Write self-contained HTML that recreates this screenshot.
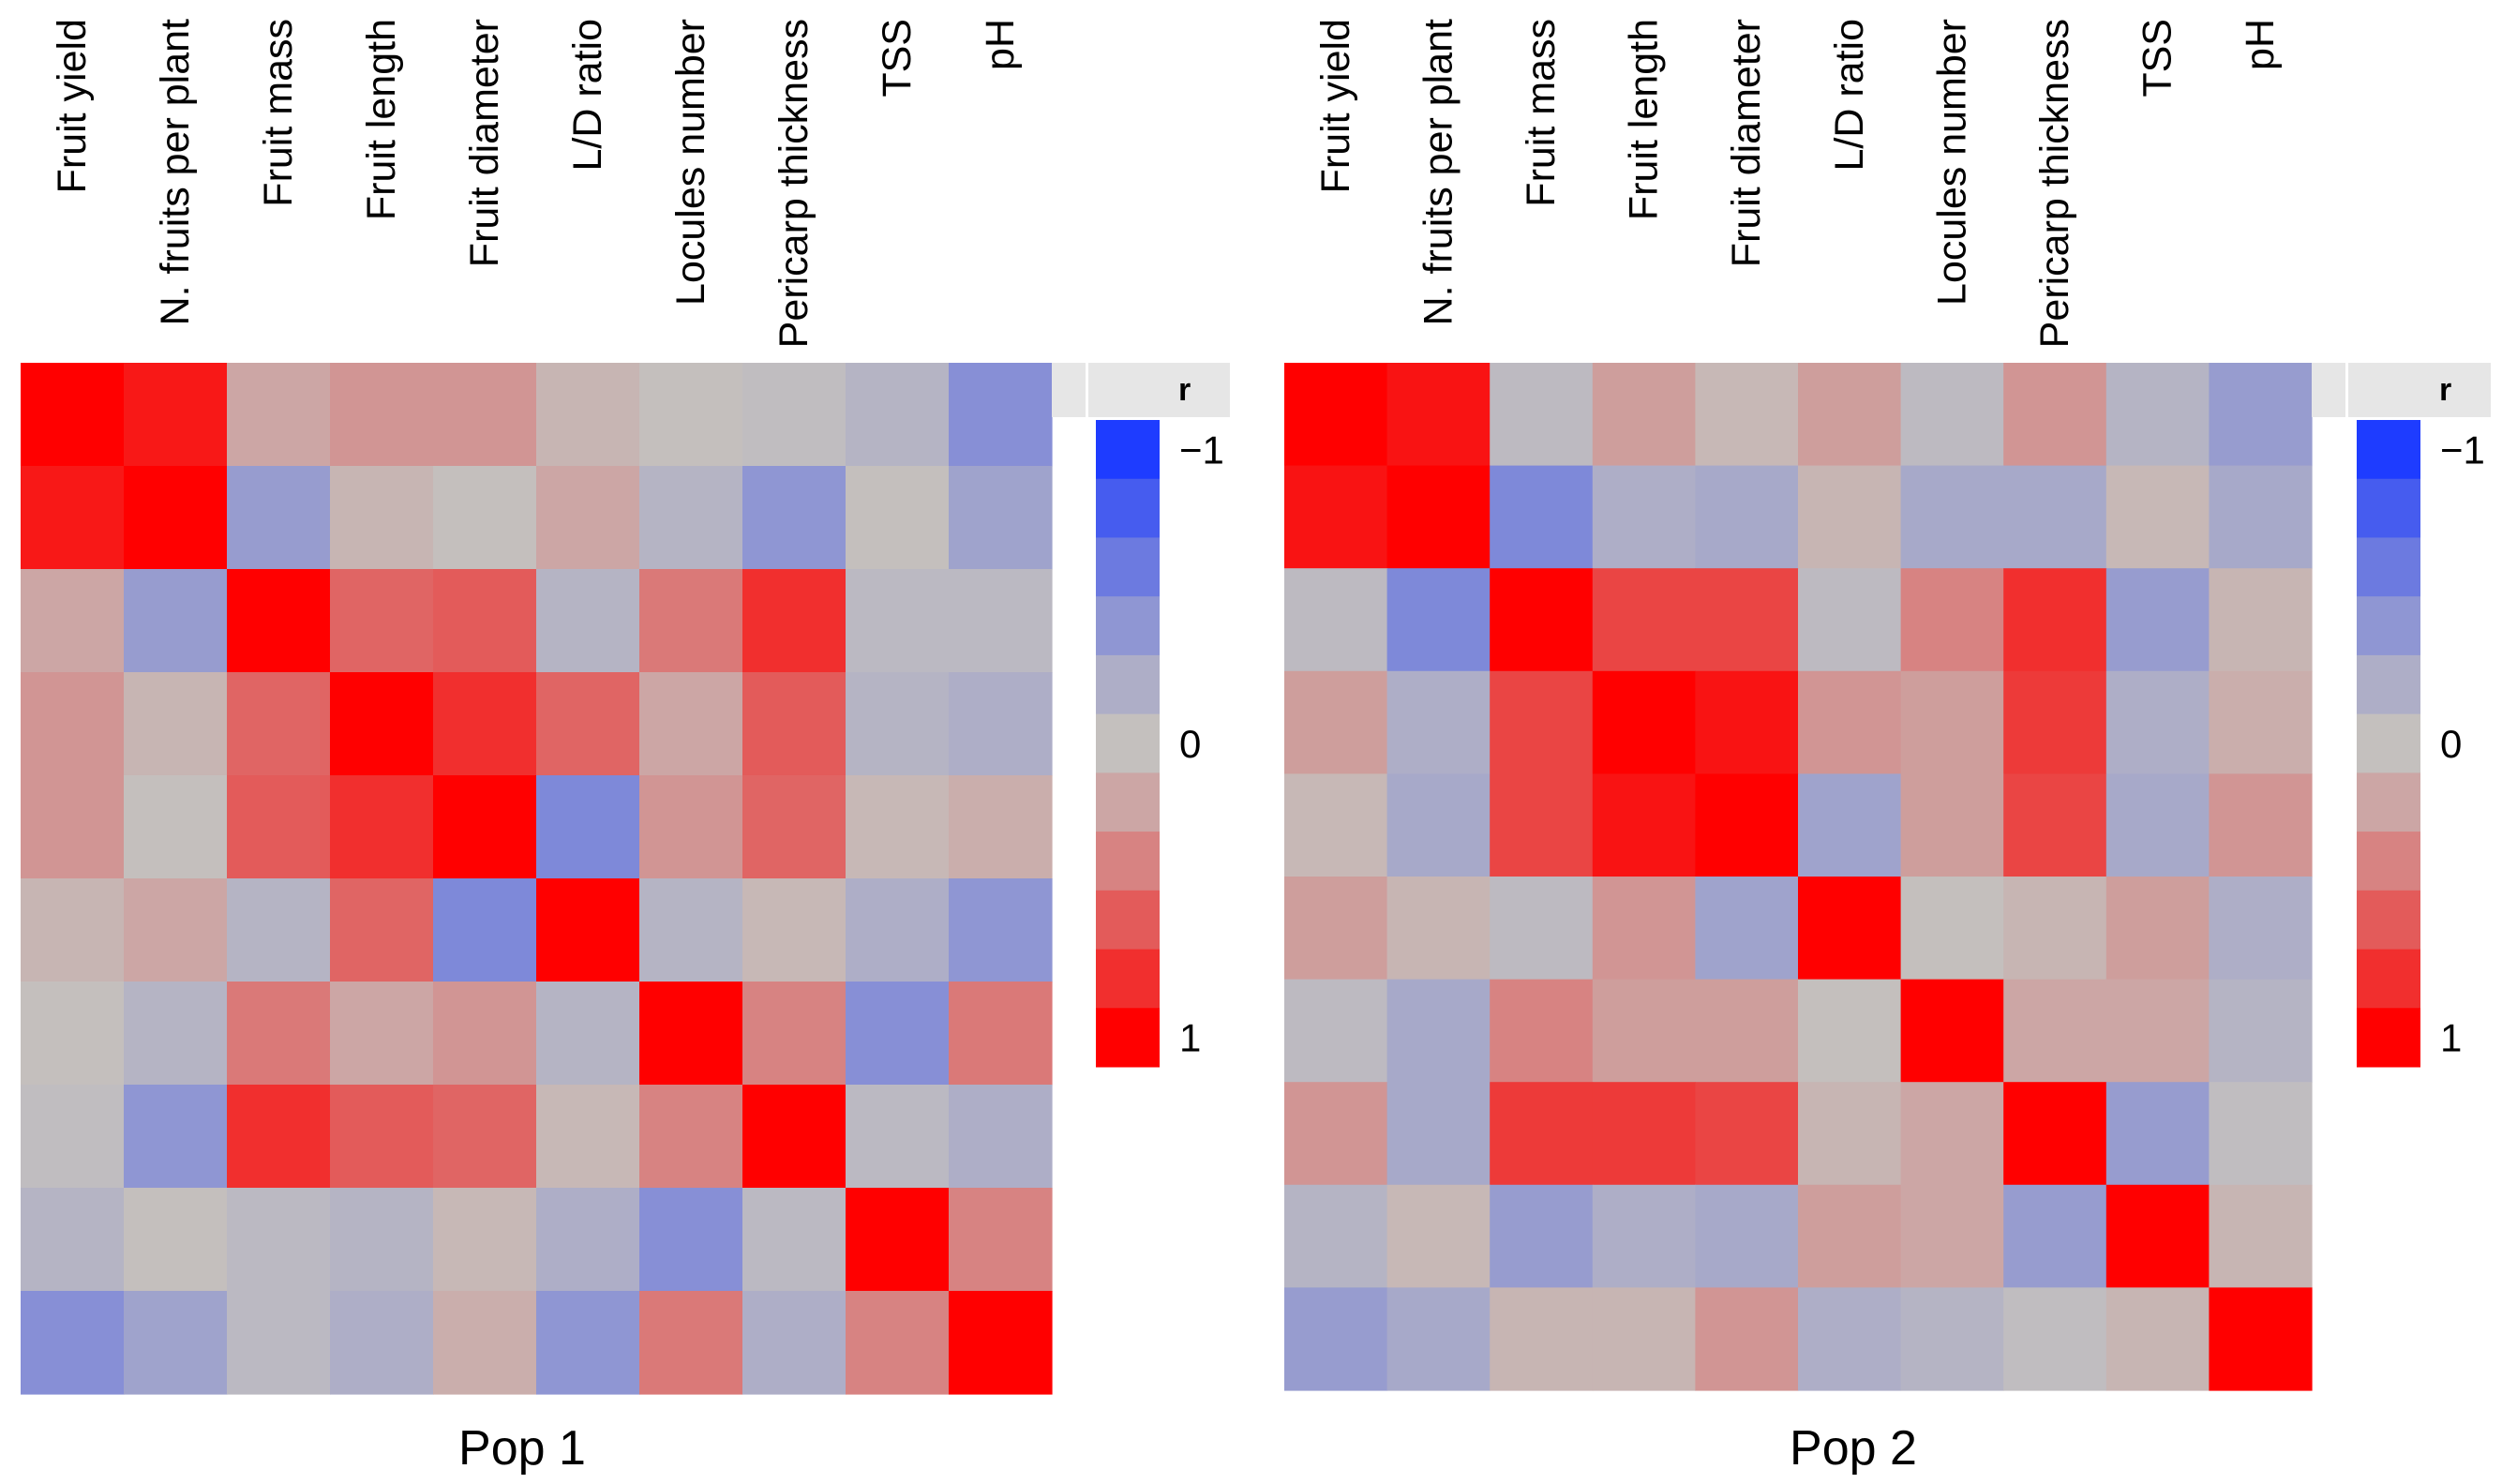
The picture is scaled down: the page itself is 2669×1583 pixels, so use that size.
<!DOCTYPE html>
<html><head><meta charset="utf-8"><style>
html,body{margin:0;padding:0;background:#fff;}
svg{display:block;font-family:"Liberation Sans",sans-serif;}
</style></head><body>
<svg id="chart" width="2669" height="1583" viewBox="0 0 2669 1583" xmlns="http://www.w3.org/2000/svg"></svg>
<script>
const traits = ["Fruit yield","N. fruits per plant","Fruit mass","Fruit length","Fruit diameter","L/D ratio","Locules number","Pericarp thickness","TSS","pH"];
const pop1 = [
 [1,0.9,0.2,0.3,0.3,0.1,0.02,-0.05,-0.15,-0.45],
 [0.9,1,-0.35,0.1,0.02,0.2,-0.15,-0.4,0.02,-0.3],
 [0.2,-0.35,1,0.55,0.6,-0.15,0.45,0.8,-0.1,-0.1],
 [0.3,0.1,0.55,1,0.8,0.55,0.2,0.6,-0.15,-0.2],
 [0.3,0.02,0.6,0.8,1,-0.5,0.3,0.55,0.08,0.15],
 [0.1,0.2,-0.15,0.55,-0.5,1,-0.15,0.08,-0.2,-0.4],
 [0.02,-0.15,0.45,0.2,0.3,-0.15,1,0.4,-0.45,0.45],
 [-0.05,-0.4,0.8,0.6,0.55,0.08,0.4,1,-0.1,-0.2],
 [-0.15,0.02,-0.1,-0.15,0.08,-0.2,-0.45,-0.1,1,0.4],
 [-0.45,-0.3,-0.1,-0.2,0.15,-0.4,0.45,-0.2,0.4,1]
];
const pop2 = [
 [1,0.92,-0.08,0.25,0.08,0.25,-0.08,0.3,-0.15,-0.35],
 [0.92,1,-0.5,-0.2,-0.25,0.1,-0.25,-0.25,0.08,-0.25],
 [-0.08,-0.5,1,0.7,0.7,-0.08,0.4,0.8,-0.35,0.1],
 [0.25,-0.2,0.7,1,0.92,0.3,0.25,0.75,-0.2,0.15],
 [0.08,-0.25,0.7,0.92,1,-0.3,0.25,0.7,-0.25,0.3],
 [0.25,0.1,-0.08,0.3,-0.3,1,0.02,0.1,0.25,-0.2],
 [-0.08,-0.25,0.4,0.25,0.25,0.02,1,0.2,0.2,-0.15],
 [0.3,-0.25,0.75,0.75,0.7,0.1,0.2,1,-0.35,-0.05],
 [-0.15,0.08,-0.35,-0.2,-0.25,0.25,0.2,-0.35,1,0.1],
 [-0.35,-0.25,0.1,0.1,0.3,-0.2,-0.15,-0.05,0.1,1]
];
const legendBins = [-1,-0.8,-0.6,-0.4,-0.2,0,0.2,0.4,0.6,0.8,1];
const legendTicks = ["\u22121","0","1"];
const panelTitles = ["Pop 1","Pop 2"];

const NS="http://www.w3.org/2000/svg";
const svg=document.getElementById('chart');
function mk(tag,attrs,parent){const e=document.createElementNS(NS,tag);for(const k in attrs)e.setAttribute(k,attrs[k]);(parent||svg).appendChild(e);return e;}
function color(r){
  const g=[196,192,190];
  let t=Math.pow(Math.min(1,Math.abs(r)),1.25), end = r>=0?[255,0,0]:[30,60,255];
  const c=g.map((v,i)=>Math.round(v+(end[i]-v)*t));
  return `rgb(${c[0]},${c[1]},${c[2]})`;
}
function panel(data,x0,y0,size,cbX,title,titleX){
  const n=traits.length, cs=size/n;
  const xs=i=>x0+i*cs, ys=j=>y0+j*cs;
  const g=mk('g',{});
  
  
  data.forEach((row,j)=>row.forEach((v,i)=>{
    const r=mk('rect',{x:xs(i),y:ys(j),width:cs+0.6,height:cs+0.6,fill:color(v)},g);
    
    
  }));
  traits.forEach((t,i)=>{
    const cx=xs(i)+cs/2+14;
    const tx=mk('text',{x:0,y:0,transform:`translate(${cx},20) rotate(-90)`,'text-anchor':'end','font-size':43,fill:'#000'},svg);
    tx.textContent=t;
    
    
  });
  const tt=mk('text',{x:titleX,y:1562,'text-anchor':'middle','font-size':52,fill:'#000'});
  tt.textContent=title;
  
  
  const lg=mk('g',{});
  
  
  const hx=x0+size;
  mk('rect',{x:hx,y:y0,width:cbX+143-hx,height:58,fill:'#e6e6e6'},lg);
  mk('rect',{x:hx+36,y:y0,width:3,height:58,fill:'#fff'},lg);
  const ht=mk('text',{x:cbX+88,y:y0+40,'font-size':34,'font-weight':'bold',fill:'#000'},lg);
  ht.textContent='r';
  const bt=448, bh=(1138-448)/legendBins.length;
  legendBins.forEach((b,k)=>{
    const r=mk('rect',{x:cbX,y:bt+k*bh,width:68,height:bh+0.5,fill:color(b)},lg);
    
    
  });
  const tickY=[bt+bh/2, bt+5.5*bh, bt+10.5*bh];
  legendTicks.forEach((s,k)=>{
    const t=mk('text',{x:cbX+89,y:tickY[k]+15,'font-size':42,fill:'#000'},lg);
    t.textContent=s;
    
    
  });
}
panel(pop1,22,387,1100,1169,panelTitles[0],557);
panel(pop2,1370,387,1096,2514,panelTitles[1],1977);
</script>
</body></html>
